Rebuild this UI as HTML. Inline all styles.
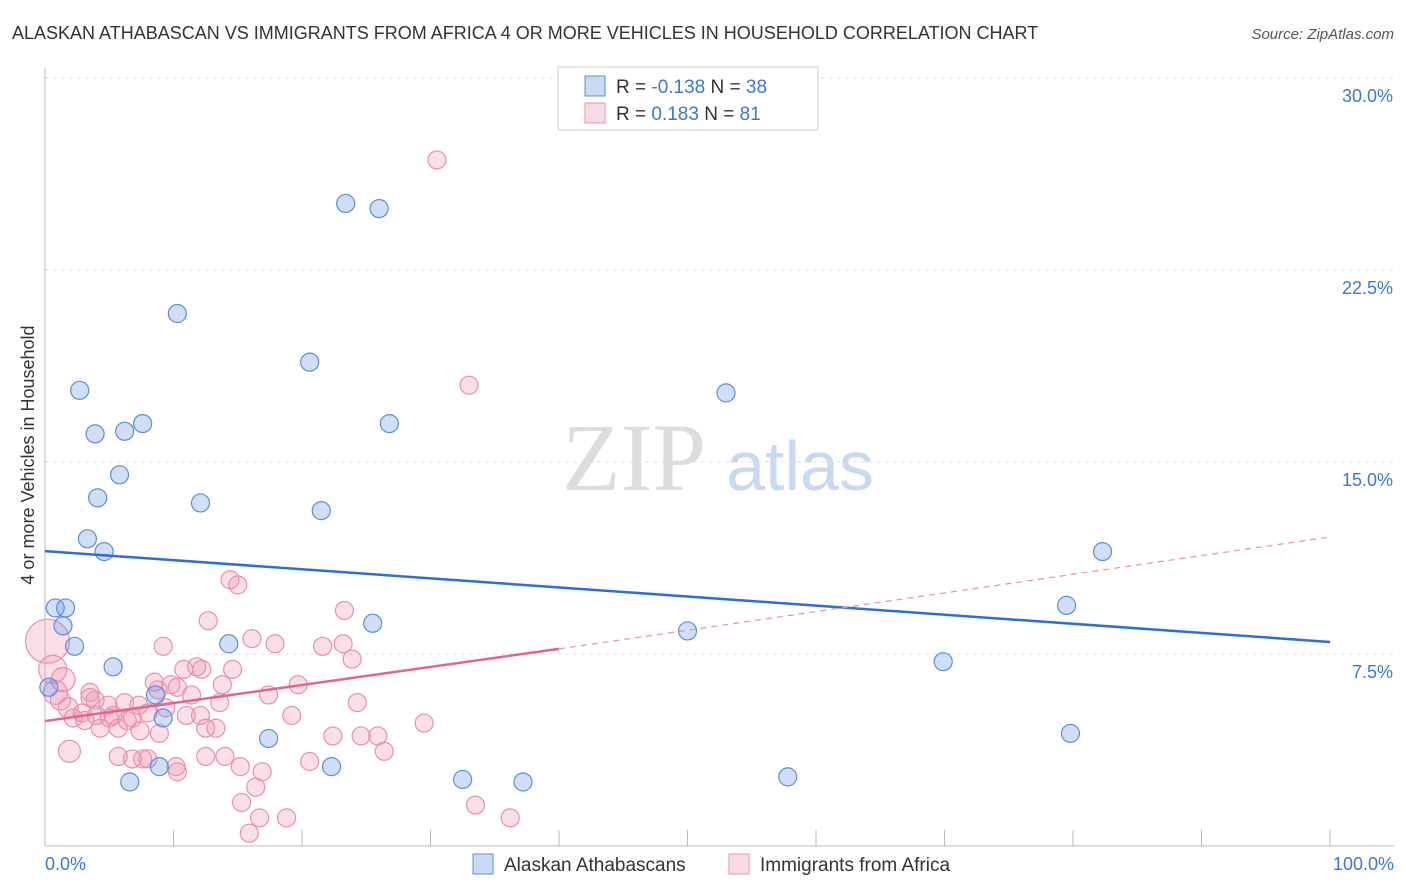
<!DOCTYPE html>
<html><head><meta charset="utf-8"><style>
body{margin:0;background:#fff;font-family:"Liberation Sans",sans-serif}
svg{display:block}
</style></head><body>
<svg id="c" width="1406" height="892" xmlns="http://www.w3.org/2000/svg">
<text x="12" y="39" font-size="18" fill="#333">ALASKAN ATHABASCAN VS IMMIGRANTS FROM AFRICA 4 OR MORE VEHICLES IN HOUSEHOLD CORRELATION CHART</text>
<text x="1394" y="39" font-size="15" fill="#555" font-style="italic" text-anchor="end">Source: ZipAtlas.com</text>
<text x="634" y="490" font-size="96" fill="#ddd" font-family="Liberation Serif" text-anchor="middle">ZIP</text>
<text x="800" y="490" font-size="70" fill="#c9daf0" text-anchor="middle">atlas</text>
<g id="grid"></g>
<line x1="45" y1="68" x2="45" y2="846" stroke="#bbb"/>
<line x1="45" y1="846" x2="1394" y2="846" stroke="#bbb"/>
<g id="xt"></g>
<text x="34" y="455" font-size="18" fill="#333" transform="rotate(-90 34 455)" text-anchor="middle">4 or more Vehicles in Household</text>
<text x="45" y="870" font-size="18" fill="#3a78d6">0.0%</text>
<text x="1394" y="870" font-size="18" fill="#3a78d6" text-anchor="end">100.0%</text>
<g id="pts"></g>
<g id="lines"></g>
<g>
<rect x="558" y="67" width="260" height="63" fill="#fff" stroke="#ccc"/>
<rect x="585" y="76" width="20" height="20" fill="rgba(100,150,230,0.35)" stroke="#5b8fd6"/>
<rect x="585" y="103" width="20" height="20" fill="rgba(240,150,180,0.35)" stroke="#e891ab"/>
<text x="616" y="93" font-size="19" fill="#333">R = <tspan fill="#3a78d6">-0.138</tspan>    N = <tspan fill="#3a78d6">38</tspan></text>
<text x="616" y="120" font-size="19" fill="#333">R =  <tspan fill="#3a78d6"> 0.183</tspan>    N = <tspan fill="#3a78d6">81</tspan></text>
</g>
<g>
<rect x="473" y="854" width="20" height="20" fill="rgba(100,150,230,0.35)" stroke="#5b8fd6"/>
<text x="504" y="871" font-size="19" fill="#333">Alaskan Athabascans</text>
<rect x="729" y="854" width="20" height="20" fill="rgba(240,150,180,0.35)" stroke="#e891ab"/>
<text x="760" y="871" font-size="19" fill="#333">Immigrants from Africa</text>
</g>
</svg>
<script>
const yTicks=[7.5,15,22.5,30];
const yTickLabels=["7.5%","15.0%","22.5%","30.0%"];
const blueX=[23.4,26,10.3,20.6,2.7,53,7.6,3.9,6.2,26.8,5.8,4.1,12.1,21.5,3.3,4.6,82.3,0.8,1.6,1.4,79.5,25.5,2.3,14.3,50,5.3,69.9,0.3,8.6,9.2,17.4,79.8,8.9,22.3,6.6,32.5,37.2,57.8];
const blueY=[25.1,24.9,20.8,18.9,17.8,17.7,16.5,16.1,16.2,16.5,14.5,13.6,13.4,13.1,12,11.5,11.5,9.3,9.3,8.6,9.4,8.7,7.8,7.9,8.4,7,7.2,6.2,5.9,5,4.2,4.4,3.1,3.1,2.5,2.6,2.5,2.7];
const pinkX=[30.5,33,14.4,15,12.7,23.3,9.2,16.1,17.9,21.6,23.2,23.9,10.8,11.8,12.2,14.6,0.2,0.6,0.8,1.2,1.8,3.5,3.9,2.9,2.2,4.9,6.2,7.3,4.3,5.7,6.4,6.8,7.4,8,8.5,8.8,9.8,10.3,11.4,13.8,17.4,19.7,13.6,9.4,11,12.1,8.9,13.3,24.3,19.2,29.5,5.7,6.8,8,1.9,10.2,10.3,12.5,14,15.2,16.9,16.4,20.6,15.3,16.7,15.9,18.8,33.5,36.2,22.4,24.6,25.9,26.4,3.1,4,5,1.4,3.5,5.3,7.6,12.5];
const pinkY=[26.8,18,10.4,10.2,8.8,9.2,7.8,8.1,7.9,7.8,7.9,7.3,6.9,7,6.9,6.9,8,6.9,6,5.7,5.4,6,5.7,5.2,5,5.5,5.6,5.5,4.6,4.6,4.9,5,4.5,5.2,6.4,6.1,6.3,6.2,5.9,6.3,5.9,6.3,5.6,5.4,5.1,5.1,4.4,4.6,5.6,5.1,4.8,3.5,3.4,3.4,3.7,3.1,2.9,3.5,3.5,3.1,2.9,2.3,3.3,1.7,1.1,0.5,1.1,1.6,1.1,4.3,4.3,4.3,3.7,4.9,5.1,5,6.5,5.8,5.1,3.4,4.6];
const pinkR=[9,9,9,9,9,9,9,9,9,9,9,9,9,9,9,9,22,14,12,10,10,9,9,9,9,9,9,9,9,9,9,9,9,9,9,9,9,9,9,9,9,9,9,9,9,9,9,9,9,9,9,9,9,9,11,9,9,9,9,9,9,9,9,9,9,9,9,9,9,9,9,9,9,9,9,9,12,9,9,9,9];
const blueLine=[0,11.52,100,7.97];
const pinkLine=[0,4.88,40,7.7,100,12.07];
const xTickCount=10;
const NS="http://www.w3.org/2000/svg";
const X=v=>45+v*12.85, Y=v=>846-v*25.6;
function mk(t,a,p){const e=document.createElementNS(NS,t);for(const k in a)e.setAttribute(k,a[k]);p.appendChild(e);return e;}
const grid=document.getElementById('grid');
yTicks.forEach((t,i)=>{
 const l=mk('line',{x1:45,x2:1394,y1:Y(t),y2:Y(t),stroke:'#ddd','stroke-dasharray':'4,4'},grid);
 
 
 const tx=mk('text',{x:1393,y:Y(t)+24,'font-size':18,fill:'#3a78d6','text-anchor':'end'},grid);
 tx.textContent=yTickLabels[i];
 
 
});
const xt=document.getElementById('xt');
for(let i=1;i<=xTickCount;i++){
 const l=mk('line',{x1:X(i*10),x2:X(i*10),y1:830,y2:846,stroke:'#bbb'},xt);
 
 
}
const pts=document.getElementById('pts');
pinkX.forEach((x,i)=>{
 const c=mk('circle',{cx:X(x),cy:Y(pinkY[i]),r:pinkR[i],fill:'rgba(240,150,180,0.3)',stroke:'#e891ab','stroke-width':1.2},pts);
 
 
});
blueX.forEach((x,i)=>{
 const c=mk('circle',{cx:X(x),cy:Y(blueY[i]),r:9,fill:'rgba(100,150,230,0.3)',stroke:'#5b8fd6','stroke-width':1.2},pts);
 
 
});
const lines=document.getElementById('lines');
const bl=mk('line',{x1:X(blueLine[0]),y1:Y(blueLine[1]),x2:X(blueLine[2]),y2:Y(blueLine[3]),stroke:'#2d6fd4','stroke-width':2.5},lines);


const pl=mk('line',{x1:X(pinkLine[0]),y1:Y(pinkLine[1]),x2:X(pinkLine[2]),y2:Y(pinkLine[3]),stroke:'#e5648f','stroke-width':2.5},lines);


const pd=mk('line',{x1:X(pinkLine[2]),y1:Y(pinkLine[3]),x2:X(pinkLine[4]),y2:Y(pinkLine[5]),stroke:'#e891ab','stroke-width':1.2,'stroke-dasharray':'6,5'},lines);


</script>
</body></html>
